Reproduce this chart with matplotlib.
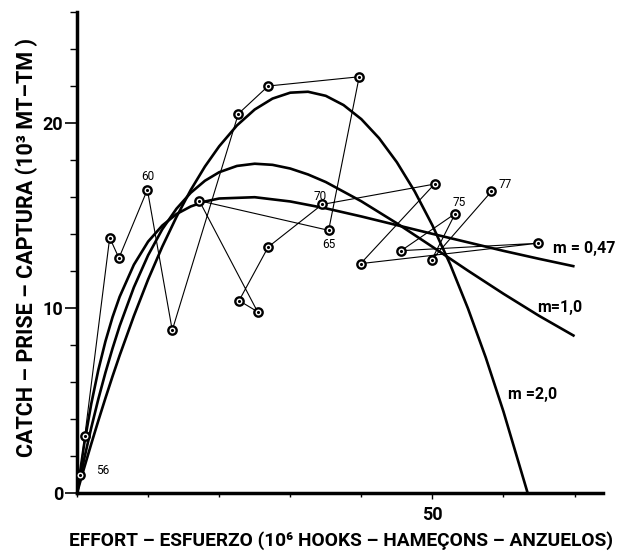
import numpy as np
import matplotlib
matplotlib.use("Agg")
import matplotlib.pyplot as plt
from matplotlib.ticker import MultipleLocator

# observed catch / effort by year
years = [56, 57, 58, 59, 60, 61, 62, 63, 64, 65, 66, 67, 68, 69, 70, 71, 72, 73, 74, 75, 76, 77]
effort = [0.4, 1.1, 4.6, 5.9, 9.9, 13.4, 22.7, 26.9, 39.7, 35.4, 17.2, 25.4, 22.8, 26.9, 34.5, 50.3, 39.9, 64.8, 45.6, 53.2, 49.9, 58.3]
catch = [1.0, 3.1, 13.8, 12.7, 16.4, 8.8, 20.5, 22.0, 22.5, 14.2, 15.8, 9.8, 10.4, 13.3, 15.6, 16.7, 12.4, 13.5, 13.1, 15.1, 12.6, 16.3]

# years that carry a label
labelled = [56, 60, 65, 70, 75, 77]

# production model curves
curve_f = [0, 1, 2, 3, 4, 5, 6, 8, 10, 12, 14, 16, 18, 20, 25, 30, 35, 40, 45, 50, 55, 60, 65, 70]
m047 = [0, 2.62, 4.81, 6.65, 8.20, 9.51, 10.61, 12.34, 13.59, 14.46, 15.08, 15.49, 15.76, 15.92,
        15.99, 15.76, 15.39, 14.95, 14.48, 14.01, 13.55, 13.09, 12.66, 12.25]
m10_f = [0, 1, 2, 3, 4, 5, 6, 8, 10, 12, 14, 16, 18, 20, 22.5, 25, 27.5, 30, 32.5, 35, 40, 45,
         50, 55, 60, 65, 70]
m10 = [0, 1.83, 3.52, 5.08, 6.51, 7.82, 9.03, 11.12, 12.85, 14.26, 15.37, 16.23, 16.88, 17.34,
       17.68, 17.80, 17.74, 17.54, 17.22, 16.81, 15.77, 14.58, 13.31, 12.02, 10.77, 9.58, 8.48]
m20_f = [0, 1, 2, 3, 4, 5, 6, 8, 10, 12, 14, 16, 18, 20, 22.5, 25, 27.5, 30, 32.5, 35, 37.5,
         40, 42.5, 45, 47.5, 50, 52.5, 55, 57.5, 60, 63.4]
m20 = [0, 1.35, 2.65, 3.91, 5.13, 6.31, 7.44, 9.57, 11.54, 13.32, 14.93, 16.38, 17.65, 18.74,
       19.87, 20.73, 21.32, 21.64, 21.69, 21.47, 20.97, 20.21, 19.18, 17.88, 16.31, 14.47,
       12.36, 9.98, 7.33, 4.40, 0]

FONT = ["Roboto", "DejaVu Sans"]
plt.rcParams["font.family"] = FONT

fig = plt.figure(figsize=(6.23, 5.59), dpi=100)
ax = fig.add_axes([0.1236, 0.118, 0.8443, 0.8605])

# model curves
for xs, ys in [(curve_f, m047), (m10_f, m10), (m20_f, m20)]:
	ax.plot(xs, ys, color="black", lw=1.9, solid_capstyle="butt", solid_joinstyle="round", zorder=2)

# observed series
ax.plot(effort, catch, color="black", lw=0.8, zorder=3)
ax.plot(effort, catch, "o", ms=6, mfc="white", mec="black", mew=1.7, zorder=4)
ax.plot(effort, catch, ".", ms=2.5, color="black", zorder=5)

# year labels
offsets = {56: (2.3, 0.2, "left"), 60: (0, 0.7, "center"), 65: (0, -0.75, "center"),
           70: (-0.3, 0.45, "center"), 75: (0.5, 0.6, "center"), 77: (1.0, 0.4, "left")}
for yr in labelled:
	i = years.index(yr)
	dx, dy, ha = offsets[yr]
	ax.text(effort[i] + dx, catch[i] + dy, str(yr), fontsize=8.5, ha=ha, va="center")

# curve labels
ax.text(67.0, 13.2, "m = 0,47", fontsize=11.5, fontweight="bold", va="center", ha="left")
ax.text(64.8, 10.05, "m=1,0", fontsize=11.5, fontweight="bold", va="center", ha="left")
ax.text(60.7, 5.3, "m =2,0", fontsize=11.5, fontweight="bold", va="center", ha="left")

ax.set_xlim(0, 74)
ax.set_ylim(0, 26)

ax.spines["top"].set_visible(False)
ax.spines["right"].set_visible(False)
ax.spines["left"].set_linewidth(2.5)
ax.spines["bottom"].set_linewidth(2.5)

ax.yaxis.set_major_locator(MultipleLocator(10))
ax.yaxis.set_minor_locator(MultipleLocator(2))
ax.set_xticks([50])
ax.xaxis.set_minor_locator(MultipleLocator(10))
ax.tick_params(axis="y", which="major", length=9, width=1.2, direction="out", pad=1, labelsize=13)
ax.tick_params(axis="y", which="minor", length=5, width=1.0, direction="out")
ax.tick_params(axis="x", which="major", length=4, width=1.0, direction="out", pad=5, labelsize=13)
ax.tick_params(axis="x", which="minor", length=3, width=1.0, direction="out")
for lab in ax.get_xticklabels() + ax.get_yticklabels():
	lab.set_fontweight("bold")

ax.set_xlabel("EFFORT \u2013 ESFUERZO (10\u2076 HOOKS \u2013 HAMEÇONS \u2013 ANZUELOS)",
              fontsize=13.8, fontweight="bold")
ax.xaxis.set_label_coords(0.502, -0.08)
ax.set_ylabel("CATCH \u2013 PRISE \u2013 CAPTURA (10\u00b3 MT\u2013TM )",
              fontsize=15.5, fontweight="bold")
ax.yaxis.set_label_coords(-0.074, 0.51)

fig.savefig("out.png", dpi=100)
